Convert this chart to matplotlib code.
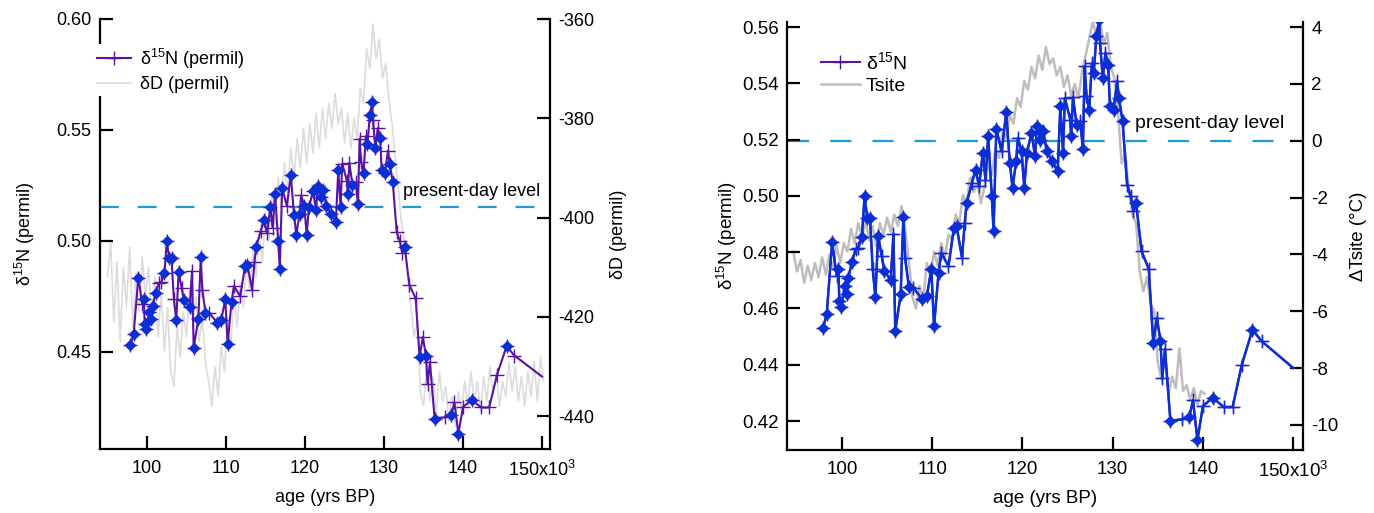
import numpy as np
import matplotlib
matplotlib.use("Agg")
import matplotlib.pyplot as plt

plt.rcParams['font.family'] = ['Liberation Sans', 'DejaVu Sans']
plt.rcParams['mathtext.fontset'] = 'custom'
plt.rcParams['mathtext.rm'] = 'Liberation Sans'
plt.rcParams['mathtext.it'] = 'Liberation Sans:italic'
plt.rcParams['axes.unicode_minus'] = False

# d15N record (age in kyr BP, permil); mark: D = diamond sample, + = plain, '' = no marker
n15_age = [97.9, 98.3, 98.9, 99.4, 99.6, 99.7, 99.9, 100.3, 100.5, 100.7, 101.1, 101.5, 101.8,
           102.2, 102.5, 102.8, 103.1, 103.4, 103.7, 104.0, 104.4, 104.7, 105.4, 105.7, 105.9,
           106.5, 106.8, 107.0, 107.4, 107.9, 108.9, 109.4, 109.9, 110.2, 110.7, 111.0, 111.8,
           112.4, 112.7, 113.3, 113.6, 113.8, 114.4, 114.8, 115.2, 115.6, 115.9, 116.2, 116.6,
           116.8, 117.1, 117.7, 118.2, 118.6, 118.9, 119.3, 119.5, 119.9, 120.2, 120.5, 121.0,
           121.4, 121.6, 122.0, 122.3, 122.7, 123.3, 123.9, 124.2, 124.5, 124.7, 125.3, 125.4,
           125.6, 126.0, 126.4, 126.7, 126.9, 127.1, 127.4, 127.7, 127.9, 128.2, 128.5, 128.6,
           128.9, 129.2, 129.5, 129.7, 130.1, 130.5, 130.7, 131.1, 131.6, 132.0, 132.3, 132.6,
           133.2, 134.0, 134.5, 134.9, 135.3, 135.5, 135.8, 136.4, 137.7, 138.5, 138.9, 139.4,
           140.0, 141.1, 142.3, 143.3, 144.3, 145.5, 146.5, 150.0]
n15_val = [0.4531, 0.4579, 0.4835, 0.4717, 0.4739, 0.4626, 0.4605, 0.4679, 0.4650, 0.4709, 0.4765,
           0.4810, 0.4815, 0.4855, 0.4999, 0.4922, 0.4922, 0.4739, 0.4642, 0.4859, 0.4786, 0.4733,
           0.4701, 0.4866, 0.4519, 0.4650, 0.4926, 0.4780, 0.4677, 0.4674, 0.4632, 0.4644, 0.4739,
           0.4537, 0.4727, 0.4798, 0.4750, 0.4886, 0.4892, 0.4780, 0.4904, 0.4973, 0.5046, 0.5093,
           0.5034, 0.5153, 0.5058, 0.5212, 0.5001, 0.4874, 0.5238, 0.5158, 0.5297, 0.5117, 0.5029,
           0.5123, 0.5206, 0.5158, 0.5029, 0.5153, 0.5224, 0.5141, 0.5247, 0.5200, 0.5230, 0.5158,
           0.5123, 0.5087, 0.5318, 0.5153, 0.5348, 0.5271, 0.5212, 0.5352, 0.5253, 0.5265, 0.5167,
           0.5460, 0.5354, 0.5307, 0.5472, 0.5437, 0.5567, 0.5626, 0.5543, 0.5419, 0.5508, 0.5466,
           0.5318, 0.5307, 0.5407, 0.5348, 0.5265, 0.5040, 0.4999, 0.4946, 0.4975, 0.4803, 0.4741,
           0.4478, 0.4567, 0.4484, 0.4354, 0.4455, 0.4200, 0.4206, 0.4214, 0.4274, 0.4132, 0.4253,
           0.4283, 0.4250, 0.4250, 0.4398, 0.4525, 0.4484, 0.4389]
n15_mark = list(
    "DDD" "+" "DDDDDDD" "++" "DDDD" "+" "DD" "+" "DD" "+" "DDD" "+" "D" "+" "DDDDD" "++"
    "DD" "++" "D" "+" "D" "+" "D" "+" "DDDD" "+" "DDDD" "+" "DDDDDDDDDDDDD" "++" "D" "+"
    "D" "+" "D" "++" "D" "+" "DDD" "+" "D" "+" "DDD" "+" "DD" "+++" "D" "++" "D" "+" "D"
    "++" "D" "+" "D" "+" "D" "+" "D" "+++" "D" "+") + ['']

# deltaD (permil), one value every 0.4 kyr from 95.0 kyr
dD_start = 95.0
dD_val = [-412, -405, -421, -409, -425, -410, -418, -406, -422, -411, -419, -408, -416, -410,
          -421, -412, -424, -415, -427, -418, -431, -434, -422, -428, -419, -424, -414, -421,
          -416, -425, -420, -429, -433, -438, -430, -436, -426, -431, -420, -426, -416, -422,
          -413, -418, -409, -415, -407, -412, -403, -409, -399, -405, -395, -401, -392, -398,
          -389, -395, -386, -392, -384, -390, -382, -389, -381, -387, -379, -386, -378, -384,
          -377, -382, -375, -381, -378, -385, -379, -386, -380, -384, -374, -377, -366, -370,
          -361, -368, -364, -372, -369, -376, -381, -388, -394, -401, -405, -412, -418, -424,
          -421, -435, -438, -429, -437, -432, -440, -431, -437, -434, -441, -436, -442, -435,
          -439, -433, -438, -431, -437, -433, -439, -432, -437, -430, -436, -431, -438, -433,
          -436, -429, -435, -430, -437, -432, -438, -431, -436, -429, -437, -428, -433]

# site temperature anomaly (degC), one value every 0.4 kyr from 94.6 kyr
ts_start = 94.6
ts_val = [-3.9, -4.6, -4.2, -5.0, -4.4, -4.9, -4.3, -4.8, -4.1, -4.7, -4.0, -4.5, -3.7, -4.3,
          -3.6, -3.9, -3.1, -3.6, -2.9, -3.4, -2.8, -3.5, -3.0, -3.7, -2.9, -3.3, -2.7, -3.2,
          -2.6, -3.0, -2.3, -3.1, -4.2, -5.5, -5.9, -5.1, -5.6, -4.3, -4.8, -3.9, -4.4, -3.6,
          -4.1, -3.3, -3.5, -2.6, -2.9, -1.9, -2.2, -1.3, -1.8, -1.5, -2.2, -1.6, -0.9, -1.2,
          -0.3, -0.6, 0.4, 0.1, 0.9, 0.6, 1.5, 1.2, 2.1, 1.8, 2.6, 2.2, 3.0, 2.5, 3.3, 2.7,
          2.9, 2.3, 2.6, 1.9, 2.3, 1.6, 2.0, 1.5, 2.4, 3.0, 3.6, 4.2, 3.7, 4.3, 3.4, 3.8,
          2.6, 2.2, 1.0, -0.8, -0.4, -1.8, -2.6, -2.9, -4.6, -5.3, -4.8, -5.7, -6.0, -7.8,
          -8.4, -7.6, -8.9, -8.3, -8.7, -7.3, -8.8, -8.6, -9.1, -8.7, -9.3, -8.8, -8.9]

present_n15_left = 0.5153
present_t = 0.0

purple = '#5a12a2'
blue = '#0b2fd6'
dash_col = '#1f9ad8'

n15_age = np.array(n15_age)
n15_val = np.array(n15_val)
n15_mark = np.array(n15_mark)
dia = n15_mark == 'D'
plus = n15_mark != ''
dD_age = dD_start + 0.4 * np.arange(len(dD_val))
ts_age = ts_start + 0.4 * np.arange(len(ts_val))

W, H = 1374, 513
fig = plt.figure(figsize=(W / 100, H / 100), dpi=100)

xticks = [100, 110, 120, 130, 140, 150]
xlabels = ['100', '110', '120', '130', '140', '150x10$^3$']


def style(ax, axr, fs):
    for a in (ax, axr):
        for s in a.spines.values():
            s.set_linewidth(1.6)
        a.tick_params(direction='in', length=9.5, width=1.6, labelsize=fs, pad=6)
    ax.spines['top'].set_visible(False)
    ax.spines['right'].set_visible(False)
    for s in ('top', 'left', 'bottom'):
        axr.spines[s].set_visible(False)
    ax.tick_params(axis='x', pad=8)
    ax.set_xticks(xticks)
    ax.set_xticklabels(xlabels)
    ax.set_zorder(axr.get_zorder() + 1)
    ax.patch.set_visible(False)


# ---------- left panel ----------
ax1 = fig.add_axes([100 / W, 64 / H, 450 / W, 430 / H])
ax1r = ax1.twinx()
style(ax1, ax1r, 13)

g1, = ax1r.plot(dD_age, dD_val, color='#dcdcdc', lw=1.2)
l1, = ax1.plot(n15_age, n15_val, color=purple, lw=1.5, marker='+', ms=10, mew=1.0,
               markevery=list(np.where(plus)[0]))
ax1.plot(n15_age[dia], n15_val[dia], ls='none', marker='D', ms=4.8, color=blue, mec=blue)
ax1.axhline(present_n15_left, color=dash_col, lw=1.6, ls=(0, (8.5, 8.5)), zorder=1)
ax1.text(132.4, 0.5225, 'present-day level', fontsize=13, ha='left', va='center')

ax1.set_xlim(94.05, 151.0)
ax1.set_ylim(0.4063, 0.60)
ax1.set_yticks([0.45, 0.50, 0.55, 0.60])
ax1.set_yticklabels(['0.45', '0.50', '0.55', '0.60'])
ax1r.set_ylim(-446.6, -360)
ax1r.set_yticks([-440, -420, -400, -380, -360])
ax1.set_xlabel('age (yrs BP)', fontsize=13, labelpad=6)
ax1.set_ylabel('δ$^{15}$N (permil)', fontsize=13, labelpad=14)
ax1r.set_ylabel('δD (permil)', fontsize=13, labelpad=11)

leg = ax1.legend([l1, g1], ['δ$^{15}$N (permil)', 'δD (permil)'], loc='upper left',
                 bbox_to_anchor=(94 / W, 1 - 44 / H), bbox_transform=fig.transFigure,
                 frameon=True, facecolor='white', edgecolor='none', framealpha=1,
                 fancybox=False, fontsize=13, borderpad=0.15, borderaxespad=0,
                 handlelength=1.9, handletextpad=0.5, labelspacing=0.3)

# ---------- right panel ----------
ax2 = fig.add_axes([787 / W, 63 / H, 516 / W, 428 / H])
ax2r = ax2.twinx()
style(ax2, ax2r, 13.5)

g2, = ax2r.plot(ts_age, ts_val, color='#bdbdbd', lw=1.8)
l2, = ax2.plot(n15_age, n15_val, color=purple, lw=1.5, marker='+', ms=10, mew=1.0,
               markevery=list(np.where(plus)[0]))
ax2.plot(n15_age, n15_val, color=blue, lw=1.8, marker='+', ms=8.5, mew=1.0,
         markevery=list(np.where(plus)[0]))
ax2.plot(n15_age[dia], n15_val[dia], ls='none', marker='D', ms=5.5, color=blue, mec=blue)
ax2r.hlines(present_t, 94.0, 150.0, color=dash_col, lw=1.6, ls=(0, (9.5, 9.5)), zorder=1)
ax2r.text(132.5, 0.6, 'present-day level', fontsize=14, ha='left', va='center')

ax2.set_xlim(93.9, 151.1)
ax2.set_ylim(0.4097, 0.5618)
ax2.set_yticks([0.42, 0.44, 0.46, 0.48, 0.50, 0.52, 0.54, 0.56])
ax2.set_yticklabels(['0.42', '0.44', '0.46', '0.48', '0.50', '0.52', '0.54', '0.56'])
ax2r.set_ylim(-10.88, 4.18)
ax2r.set_yticks([-10, -8, -6, -4, -2, 0, 2, 4])
ax2.set_xlabel('age (yrs BP)', fontsize=13.5, labelpad=6)
ax2.set_ylabel('δ$^{15}$N (permil)', fontsize=13.5, labelpad=2)
ax2r.set_ylabel('ΔTsite (°C)', fontsize=13.5, labelpad=8)

ax2.legend([l2, g2], ['δ$^{15}$N', 'Tsite'], loc='upper left',
           bbox_to_anchor=(818 / W, 1 - 48 / H), bbox_transform=fig.transFigure,
           frameon=False, fontsize=14, borderpad=0.15, borderaxespad=0,
           handlelength=2.0, handletextpad=0.3, labelspacing=0.25)

fig.savefig('out.png', dpi=100)
